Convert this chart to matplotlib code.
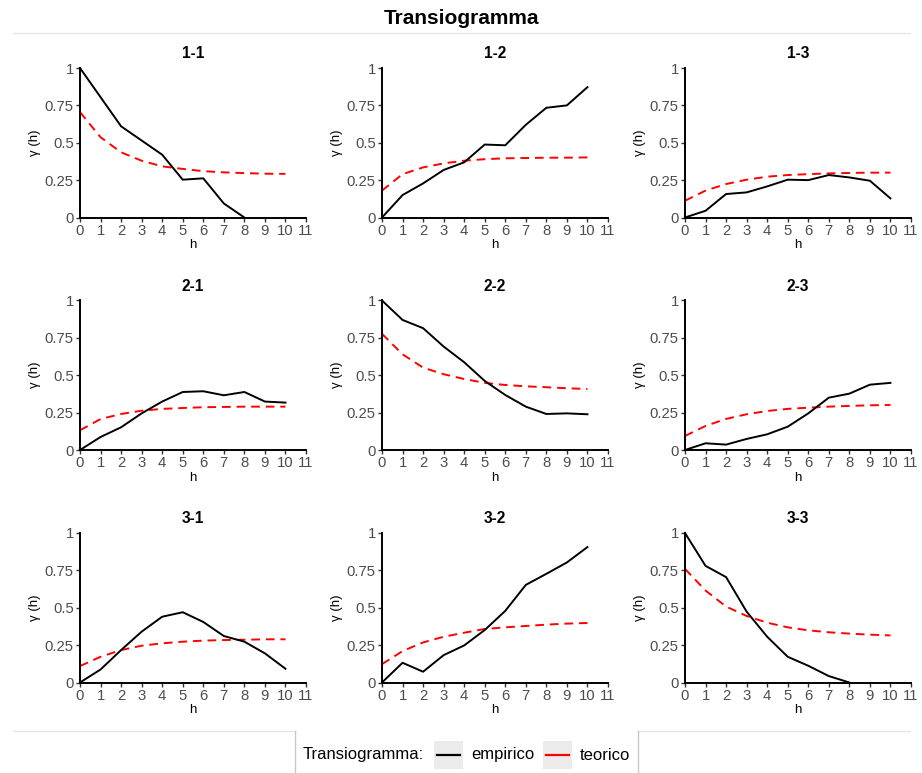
import matplotlib.pyplot as plt
from matplotlib.lines import Line2D
from matplotlib.patches import Rectangle
import numpy as np

plt.rcParams['font.family'] = ['Liberation Sans', 'DejaVu Sans']

h = np.arange(11)

# empirical transiograms (line stops where data ends)
emp_11 = [1.0, 0.805, 0.61, 0.515, 0.42, 0.253, 0.262, 0.094, 0.0]
emp_12 = [0.0, 0.15, 0.228, 0.318, 0.369, 0.488, 0.483, 0.62, 0.734, 0.75, 0.872]
emp_13 = [0.0, 0.045, 0.157, 0.168, 0.208, 0.253, 0.25, 0.284, 0.268, 0.246, 0.128]
emp_21 = [0.0, 0.087, 0.152, 0.245, 0.324, 0.388, 0.393, 0.366, 0.388, 0.324, 0.317]
emp_22 = [1.0, 0.87, 0.815, 0.692, 0.587, 0.462, 0.368, 0.29, 0.241, 0.245, 0.239]
emp_23 = [0.0, 0.045, 0.036, 0.074, 0.105, 0.156, 0.245, 0.35, 0.377, 0.437, 0.449]
emp_31 = [0.0, 0.087, 0.217, 0.34, 0.44, 0.47, 0.405, 0.311, 0.273, 0.195, 0.092]
emp_32 = [0.0, 0.132, 0.072, 0.183, 0.248, 0.351, 0.479, 0.653, 0.727, 0.803, 0.906]
emp_33 = [1.0, 0.78, 0.705, 0.474, 0.306, 0.172, 0.112, 0.043, 0.0]

# theoretical transiograms
teo_11 = [0.705, 0.537, 0.436, 0.38, 0.342, 0.325, 0.31, 0.302, 0.297, 0.293, 0.292]
teo_12 = [0.18, 0.29, 0.335, 0.362, 0.38, 0.39, 0.396, 0.398, 0.40, 0.40, 0.402]
teo_13 = [0.112, 0.18, 0.224, 0.253, 0.273, 0.284, 0.29, 0.295, 0.298, 0.30, 0.30]
teo_21 = [0.132, 0.207, 0.241, 0.263, 0.275, 0.281, 0.286, 0.288, 0.29, 0.29, 0.29]
teo_22 = [0.777, 0.64, 0.551, 0.507, 0.475, 0.449, 0.435, 0.426, 0.42, 0.413, 0.408]
teo_23 = [0.094, 0.161, 0.208, 0.239, 0.261, 0.275, 0.283, 0.29, 0.295, 0.299, 0.301]
teo_31 = [0.11, 0.172, 0.217, 0.246, 0.262, 0.273, 0.28, 0.284, 0.286, 0.289, 0.289]
teo_32 = [0.123, 0.21, 0.268, 0.306, 0.333, 0.358, 0.369, 0.378, 0.387, 0.394, 0.398]
teo_33 = [0.76, 0.615, 0.508, 0.445, 0.40, 0.369, 0.349, 0.336, 0.327, 0.32, 0.315]

labels = ['1-1', '1-2', '1-3', '2-1', '2-2', '2-3', '3-1', '3-2', '3-3']
empirico = [emp_11, emp_12, emp_13, emp_21, emp_22, emp_23, emp_31, emp_32, emp_33]
teorico = [teo_11, teo_12, teo_13, teo_21, teo_22, teo_23, teo_31, teo_32, teo_33]

W, H = 922, 773
fig = plt.figure(figsize=(W / 100, H / 100), dpi=100)

def fx(px):
    return px / W

def fy(py):
    return 1 - py / H

col_left = [80, 382, 685]
row_top = [68, 300.5, 533]
pw, ph = 226, 149.5
grey = '#4d4d4d'

for i, lab in enumerate(labels):
    r, c = divmod(i, 3)
    ax = fig.add_axes([fx(col_left[c]), fy(row_top[r] + ph), pw / W, ph / H])
    ax.plot(h[:len(teorico[i])], teorico[i], color='red', lw=1.4,
            dashes=(4.5, 3), zorder=2)
    ax.plot(h[:len(empirico[i])], empirico[i], color='black', lw=1.4, zorder=3,
            clip_on=False)
    ax.set_xlim(0, 11)
    ax.set_ylim(0, 1)
    ax.set_xticks(range(12))
    ax.set_yticks([0, 0.25, 0.5, 0.75, 1])
    ax.set_yticklabels(['0', '0.25', '0.5', '0.75', '1'])
    for s in ['top', 'right']:
        ax.spines[s].set_visible(False)
    for s in ['left', 'bottom']:
        ax.spines[s].set_linewidth(1.4)
    ax.tick_params(length=3, width=1, color='#333333', labelsize=10.7,
                   labelcolor=grey, pad=1.5)
    ax.set_xlabel('h', fontsize=9.5, labelpad=1)
    ax.set_ylabel('γ (h)', fontsize=9.5, labelpad=3)
    ax.set_title(lab, fontsize=11.2, fontweight='bold', pad=7)

fig.text(fx(461), fy(18), 'Transiogramma', ha='center', va='center',
         fontsize=15, fontweight='bold')

# separator lines
lc = '#e6e6e6'
fig.add_artist(Line2D([fx(13), fx(910)], [fy(33)] * 2, color=lc, lw=1))
fig.add_artist(Line2D([fx(13), fx(295)], [fy(731)] * 2, color=lc, lw=1))
fig.add_artist(Line2D([fx(638), fx(910)], [fy(731)] * 2, color=lc, lw=1))
for xp in [295, 638]:
    fig.add_artist(Line2D([fx(xp)] * 2, [0, fy(731)], color='#c8c8c8', lw=1))

# legend drawn by hand, ggplot style
ly = 755
fig.text(fx(303), fy(ly), 'Transiogramma:', ha='left', va='center', fontsize=12)
keys = [(434, 'black', 'empirico'), (543, 'red', 'teorico')]
for kx, col, txt in keys:
    fig.add_artist(Rectangle((fx(kx), fy(769)), 29 / W, 28 / H,
                             facecolor='#ebebeb', edgecolor='none'))
    fig.add_artist(Line2D([fx(kx + 3), fx(kx + 26)], [fy(ly)] * 2, color=col, lw=1.6))
    fig.text(fx(kx + 37), fy(ly), txt, ha='left', va='center', fontsize=12)

fig.savefig('out.png', dpi=100)
